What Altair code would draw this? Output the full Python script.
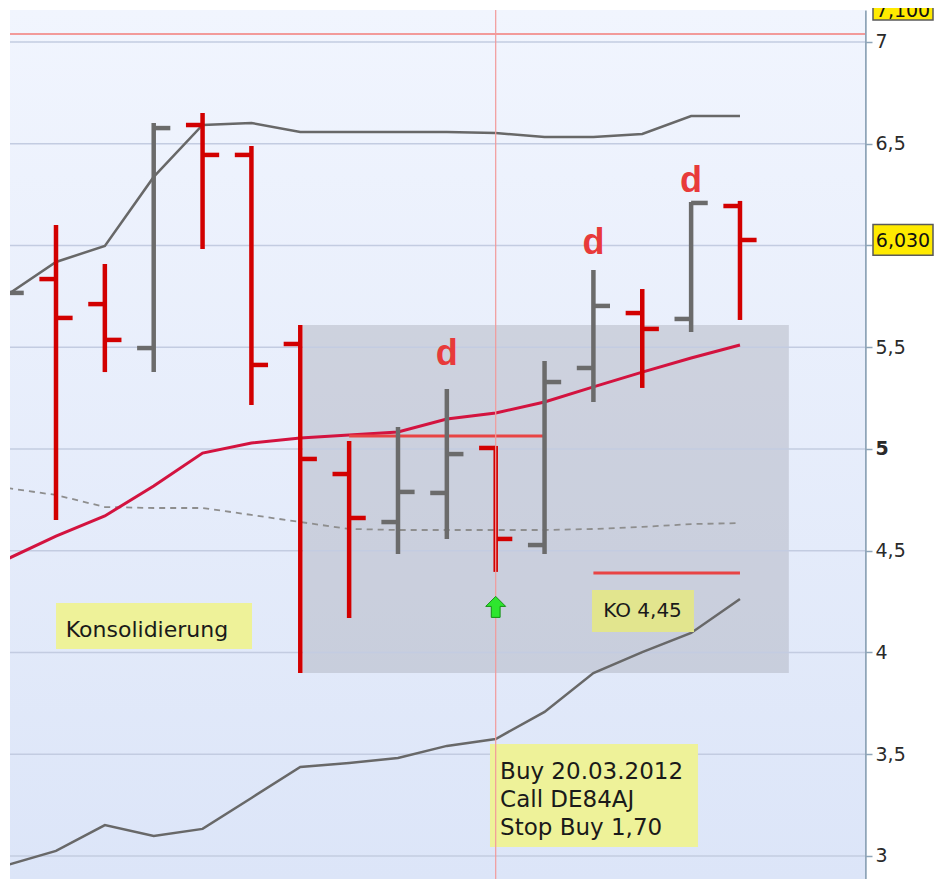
import altair as alt
import pandas as pd

# ---------------- data ----------------
day = list(range(16))
open_ = [None, 5.835, 5.712, 5.496, 6.592, 6.445, 5.516, 4.877, 4.641, 4.784, 5.005, 4.528, 5.398, 5.668, 5.639, 6.194]
high = [None, 6.101, 5.909, 6.602, 6.651, 6.489, 5.609, 5.039, 5.108, 5.295, 5.015, 5.432, 5.880, 5.786, 6.214, 6.219]
low = [None, 4.651, 5.378, 5.378, 5.983, 5.216, 3.899, 4.170, 4.484, 4.558, 4.396, 4.484, 5.231, 5.300, 5.575, 5.634]
close = [5.767, 5.644, 5.536, 6.577, 6.445, 5.413, 4.951, 4.661, 4.789, 4.975, 4.558, 5.329, 5.703, 5.590, 6.209, 6.027]

bb_upper = [5.757, 5.919, 5.998, 6.337, 6.592, 6.602, 6.558, 6.558, 6.558, 6.558, 6.553, 6.533, 6.533, 6.548, 6.636, 6.636]
bb_lower = [2.955, 3.025, 3.152, 3.098, 3.133, 3.285, 3.437, 3.457, 3.482, 3.541, 3.575, 3.708, 3.899, 4.002, 4.096, 4.263]
ma_dashed = [4.808, 4.774, 4.715, 4.710, 4.710, 4.676, 4.641, 4.607, 4.602, 4.602, 4.602, 4.602, 4.607, 4.617, 4.631, 4.636]
ma_red = [4.459, 4.572, 4.671, 4.818, 4.980, 5.029, 5.054, 5.069, 5.084, 5.147, 5.177, 5.231, 5.305, 5.378, 5.447, 5.511]

tick_values = [3, 3.5, 4, 4.5, 5, 5.5, 6, 6.5, 7]

d_days = [9, 12, 14]
d_vals = [5.413, 5.958, 6.263]

buy_day = 10
arrow_val = 4.224
top_line_val = 7.039
resistance = {"x0": 7, "x1": 11, "v": 5.064}
ko_line = {"x0": 12, "x1": 15, "v": 4.391}
consol_box = {"x0": 6.056, "x1": 16.0, "v0": 5.609, "v1": 3.899}

last_price = 6.03
top_price = 7.10

# ---------------- geometry ----------------
W, H = 855, 869
xs = alt.Scale(domain=[0.0585, 17.559], nice=False, zero=False)
ys = alt.Scale(domain=[2.8869, 7.1572], nice=False, zero=False)

yaxis = alt.Axis(
    orient="right", values=tick_values, grid=False, title=None,
    domainColor="#8fa5b8", domainWidth=2.5, tickColor="#8fa5b8", tickSize=7, tickWidth=1.5,
    labelPadding=3, labelFont="DejaVu Sans", labelFontSize=19, labelColor="#2a2a2a",
    labelExpr="datum.value == 6 ? '' : replace(format(datum.value, '.1~f'), '.', ',')",
    labelFontWeight={"condition": {"test": "datum.value == 5", "value": "bold"}, "value": "normal"},
    labelFlush=False, labelOverlap=False, labelBaseline="middle",
)

dirs = ["down" if (o is not None and c < o) else "up" for o, c in zip(open_, close)]
ohlc = pd.DataFrame({"day": day, "o": open_, "h": high, "l": low, "c": close, "dir": dirs})
lines = pd.DataFrame({"day": day, "up": bb_upper, "lo": bb_lower, "mid": ma_dashed, "ma": ma_red})

X = lambda f: alt.X(f, scale=xs, axis=None)
Y = lambda f: alt.Y(f, scale=ys, axis=yaxis)
one = pd.DataFrame({"a": [0]})

bg = alt.Chart(one).mark_rect(
    color=alt.Gradient(gradient="linear", x1=0, y1=0, x2=0, y2=1,
                       stops=[alt.GradientStop(color="#f1f5fe", offset=0),
                              alt.GradientStop(color="#dce5f8", offset=1)])
).encode(x=alt.value(0), x2=alt.value(W), y=alt.value(0), y2=alt.value(H))

consol = alt.Chart(pd.DataFrame([consol_box])).mark_rect(color="#a6aab4", opacity=0.42, clip=True).encode(
    x=X("x0:Q"), x2="x1:Q", y=Y("v0:Q"), y2="v1:Q")

grid = alt.Chart(pd.DataFrame({"v": tick_values})).mark_rule(color="#c3cce1", strokeWidth=1.5).encode(
    y=Y("v:Q"), x=alt.value(0), x2=alt.value(W))

top_line = alt.Chart(pd.DataFrame({"v": [top_line_val]})).mark_rule(color="#f29a9a", strokeWidth=2).encode(
    y=Y("v:Q"), x=alt.value(0), x2=alt.value(W))

base_l = alt.Chart(lines)
l_up = base_l.mark_line(color="#686868", strokeWidth=2.5, clip=True).encode(x=X("day:Q"), y=Y("up:Q"))
l_lo = base_l.mark_line(color="#686868", strokeWidth=2.5, clip=True).encode(x=X("day:Q"), y=Y("lo:Q"))
l_mid = base_l.mark_line(color="#8e8e8e", strokeWidth=1.8, strokeDash=[6, 5], clip=True).encode(x=X("day:Q"), y=Y("mid:Q"))
l_ma = base_l.mark_line(color="#d3133f", strokeWidth=3, clip=True).encode(x=X("day:Q"), y=Y("ma:Q"))

hl = alt.Chart(pd.DataFrame([resistance, ko_line])).mark_rule(color="#e84444", strokeWidth=3).encode(
    x=X("x0:Q"), x2="x1:Q", y=Y("v:Q"))

color = alt.Color("dir:N", scale=alt.Scale(domain=["down", "up"], range=["#d20000", "#6b6b6b"]), legend=None)
base_b = alt.Chart(ohlc)
vert = base_b.transform_filter("isValid(datum.h)").mark_rule(strokeWidth=4.5, clip=True).encode(
    x=X("day:Q"), y=Y("h:Q"), y2="l:Q", color=color)
otick = base_b.transform_filter("isValid(datum.o)").transform_calculate(
    xa="datum.day - 0.34").mark_rule(strokeWidth=4.5, clip=True).encode(
    x=X("xa:Q"), x2="day:Q", y=Y("o:Q"), color=color)
ctick = base_b.transform_calculate(xb="datum.day + 0.34").mark_rule(strokeWidth=4.5, clip=True).encode(
    x=X("day:Q"), x2="xb:Q", y=Y("c:Q"), color=color)

dtext = alt.Chart(pd.DataFrame({"day": d_days, "v": d_vals, "t": ["d"] * 3})).mark_text(
    font="Liberation Sans", fontSize=36, fontWeight="bold", color="#e83a3a",
    align="center", baseline="alphabetic").encode(x=X("day:Q"), y=Y("v:Q"), text="t:N")

boxes_a = pd.DataFrame({"x0": [1.0, 9.883], "x1": [5.012, 14.14], "v0": [4.243, 3.550], "v1": [4.017, 3.044]})
boxes_b = pd.DataFrame({"x0": [11.971], "x1": [14.058], "v0": [4.307], "v1": [4.101]})
box_a = alt.Chart(boxes_a).mark_rect(color="#eef299").encode(x=X("x0:Q"), x2="x1:Q", y=Y("v0:Q"), y2="v1:Q")
box_b = alt.Chart(boxes_b).mark_rect(color="#e2e58e").encode(x=X("x0:Q"), x2="x1:Q", y=Y("v0:Q"), y2="v1:Q")

cross = alt.Chart(pd.DataFrame({"day": [buy_day]})).mark_rule(color="#f29a9a", strokeWidth=1.2).encode(
    x=X("day:Q"), y=alt.value(0), y2=alt.value(H))

notes = pd.DataFrame({
    "x": [1.2, 12.2, 10.09, 10.09, 10.09],
    "v": [4.112, 4.204, 3.412, 3.274, 3.136],
    "t": ["Konsolidierung", "KO 4,45", "Buy 20.03.2012", "Call DE84AJ", "Stop Buy 1,70"],
    "s": [22, 20, 23, 23, 23],
})
note_t = alt.Chart(notes).mark_text(font="DejaVu Sans", color="#1a1a1a", align="left", baseline="middle").encode(
    x=X("x:Q"), y=Y("v:Q"), text="t:N", size=alt.Size("s:Q", scale=None, legend=None))

arrow_path = "M0,-1L0.95,-0.05L0.42,-0.05L0.42,1L-0.42,1L-0.42,-0.05L-0.95,-0.05Z"
arrow = alt.Chart(pd.DataFrame({"day": [buy_day], "v": [arrow_val]})).mark_point(
    shape=arrow_path, filled=True, fill="#2ee62e", stroke="#129012", strokeWidth=1, size=440, opacity=1
).encode(x=X("day:Q"), y=Y("v:Q"))

price = pd.DataFrame({"v": [last_price, top_price], "t": ["6,030", "7,100"],
                      "hi": [last_price + 0.073, top_price + 0.2], "lo": [last_price - 0.078, top_price + 0.008],
                      "tv": [last_price - 0.007, top_price + 0.05]})
pbox = alt.Chart(price).mark_rect(color="#ffea00", stroke="#5a5a5a", strokeWidth=1.5).encode(
    x=alt.value(863), x2=alt.value(923), y=Y("hi:Q"), y2="lo:Q")
ptext = alt.Chart(price).mark_text(font="DejaVu Sans", fontSize=19, color="#111111", align="center", baseline="middle").encode(
    x=alt.value(893), y=Y("tv:Q"), text="t:N")

chart = alt.layer(
    bg, consol, grid, top_line, l_up, l_lo, l_mid, l_ma, hl, vert, otick, ctick,
    dtext, box_a, box_b, cross, note_t, arrow, pbox, ptext
).properties(
    width=W, height=H,
    autosize=alt.AutoSizeParams(type="none"),
    padding={"left": 2, "top": 2, "right": 69, "bottom": 0},
    background="white",
).configure_view(stroke=None)

chart.save("out.html", embed_options={"renderer": "svg", "actions": False})
